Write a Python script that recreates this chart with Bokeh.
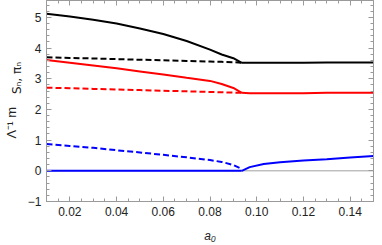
import numpy as np
from bokeh.plotting import figure
from bokeh.models import (FixedTicker, LinearAxis, NumeralTickFormatter, Range1d,
                          CustomJSTickFormatter)
from bokeh.embed import file_html
from bokeh.resources import INLINE

# ---- data ----
a_pre = [0.01, 0.02, 0.03, 0.04, 0.05, 0.06, 0.07, 0.08, 0.085, 0.09, 0.0936]
black_solid_pre = [5.12, 5.03, 4.92, 4.80, 4.64, 4.46, 4.23, 3.95, 3.79, 3.67, 3.52]
black_dash_pre = [3.70, 3.68, 3.66, 3.64, 3.62, 3.60, 3.58, 3.56, 3.55, 3.54, 3.52]
red_solid_pre = [3.61, 3.52, 3.43, 3.34, 3.24, 3.14, 3.03, 2.93, 2.83, 2.70, 2.54]
red_dash_pre = [2.71, 2.69, 2.67, 2.65, 2.63, 2.61, 2.59, 2.57, 2.56, 2.55, 2.54]
blue_solid_pre = [0, 0, 0, 0, 0, 0, 0, 0, 0, 0, 0]
blue_dash_pre = [0.87, 0.81, 0.75, 0.67, 0.60, 0.52, 0.44, 0.35, 0.29, 0.19, 0.06]

a_post = [0.0936, 0.097, 0.103, 0.11, 0.12, 0.13, 0.14, 0.15]
black_post = [3.52, 3.52, 3.52, 3.52, 3.52, 3.53, 3.53, 3.53]
red_post = [2.54, 2.53, 2.53, 2.53, 2.53, 2.54, 2.54, 2.54]
blue_post = [0.0, 0.12, 0.22, 0.28, 0.34, 0.38, 0.43, 0.48]

zero_x = [0.01, 0.15]
zero_y = [0, 0]

x_ticks = [0.02, 0.04, 0.06, 0.08, 0.10, 0.12, 0.14]
y_ticks = [-1, 0, 1, 2, 3, 4, 5]

FONT = "Liberation Sans"
FRAME = "#9a9a9a"
TXT = "#222222"
NB = "\u00a0"

p = figure(width=374, height=245, output_backend="svg", toolbar_location=None,
           x_range=Range1d(0.01, 0.15), y_range=Range1d(-1, 5.55),
           min_border_left=35, min_border_right=1, min_border_top=0, min_border_bottom=42)
p.xgrid.visible = False
p.ygrid.visible = False
p.outline_line_color = FRAME
p.background_fill_color = "white"

xminor = list(np.round(np.arange(0.01, 0.1501, 0.005), 4))
yminor = list(np.round(np.arange(-1, 5.6, 0.2), 3))

def style(ax, labels=True):
    ax.axis_line_color = FRAME
    ax.major_tick_line_color = FRAME
    ax.minor_tick_line_color = FRAME
    ax.major_tick_in = 5
    ax.major_tick_out = 0
    ax.minor_tick_in = 3
    ax.minor_tick_out = 0
    if labels:
        ax.major_label_text_font = FONT
        ax.major_label_text_font_size = "12px"
        ax.major_label_text_color = TXT
    else:
        ax.formatter = CustomJSTickFormatter(code="return ''")
        ax.major_label_standoff = 0

xt = FixedTicker(ticks=x_ticks, minor_ticks=xminor)
yt = FixedTicker(ticks=y_ticks, minor_ticks=yminor)

p.xaxis.ticker = xt
p.yaxis.ticker = yt
p.xaxis.formatter = NumeralTickFormatter(format="0.00")
p.yaxis.major_label_overrides = {-1: "\u22121"}
style(p.xaxis[0])
style(p.yaxis[0])
p.xaxis.major_label_standoff = 5
p.yaxis.major_label_standoff = 5

# x label
p.xaxis.axis_label = "a\u2080"
p.xaxis.axis_label_text_font = FONT
p.xaxis.axis_label_text_font_style = "italic"
p.xaxis.axis_label_text_font_size = "12px"
p.xaxis.axis_label_text_color = TXT
p.xaxis.axis_label_standoff = 10

# y label: subscript part on the inner (ticked) axis, main part on an outer axis
p.yaxis.axis_label = NB * 12 + "S\u2099, \u03c0\u2099"
p.yaxis.axis_label_text_font = "DejaVu Sans"
p.yaxis.axis_label_text_font_style = "normal"
p.yaxis.axis_label_text_font_size = "12px"
p.yaxis.axis_label_text_color = TXT
p.yaxis.axis_label_standoff = 1

outer = LinearAxis(ticker=FixedTicker(ticks=[]), axis_line_color=None,
                   major_tick_in=0, major_tick_out=0, minor_tick_in=0, minor_tick_out=0,
                   axis_label="\u039b\u207b\u00b9 m" + NB * 12,
                   axis_label_text_font=FONT, axis_label_text_font_style="normal",
                   axis_label_text_font_size="13px", axis_label_text_color=TXT,
                   axis_label_standoff=-12)
p.add_layout(outer, "left")

top = LinearAxis(ticker=FixedTicker(ticks=x_ticks, minor_ticks=xminor))
right = LinearAxis(ticker=FixedTicker(ticks=y_ticks, minor_ticks=yminor))
style(top, labels=False)
style(right, labels=False)
p.add_layout(top, "above")
p.add_layout(right, "right")

# zero line
p.line(zero_x, zero_y, line_color="#a0a0a0", line_width=1)

LW = 2
DASH = "6 3"
p.line(a_pre, black_dash_pre, line_color="black", line_width=LW, line_dash=DASH)
p.line(a_pre, black_solid_pre, line_color="black", line_width=LW)
p.line(a_post, black_post, line_color="black", line_width=LW)
p.line(a_pre, red_dash_pre, line_color="#ff0000", line_width=LW, line_dash=DASH)
p.line(a_pre, red_solid_pre, line_color="#ff0000", line_width=LW)
p.line(a_post, red_post, line_color="#ff0000", line_width=LW)
p.line(a_pre, blue_dash_pre, line_color="#0000ff", line_width=LW, line_dash=DASH)
p.line(a_pre, blue_solid_pre, line_color="#0000ff", line_width=LW)
p.line(a_post, blue_post, line_color="#0000ff", line_width=LW)

open("out.html", "w").write(file_html(p, INLINE))
